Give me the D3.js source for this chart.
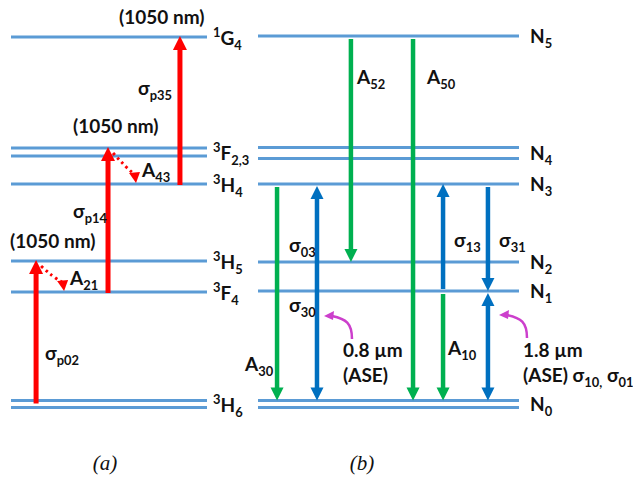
<!DOCTYPE html>
<html><head><meta charset="utf-8">
<script src="https://cdn.jsdelivr.net/npm/d3@7"></script>
<style>body{margin:0;background:#fff}text{font-family:Lato,"Open Sans",sans-serif;font-weight:700;fill:#111}</style>
</head><body><svg id="c" width="633" height="478"></svg>
<script>
// ---------- data ----------
// panel (a): Tm3+ levels (relative energy, arbitrary units)
const levelSupA  = ["3","3","3","3","3","1"];
const levelTermA = ["H","F","H","H","F","G"];
const levelJA    = ["6","4","5","4","2,3","4"];
const energyA    = [0, 112, 143, 220, 252, 367];
const doubleA    = [true,false,false,false,true,false];
// pump transitions (a)
const pumpFrom  = [0, 1, 3];
const pumpTo    = [2, 4, 5];
const pumpCol   = [12.8, 49.5, 86.2];
const pumpSub   = ["p02","p14","p35"];
const pumpWave  = ["(1050 nm)","(1050 nm)","(1050 nm)"];
// non-radiative decays (a)
const decayFrom = [2, 4];
const decayTo   = [1, 3];
const decaySub  = ["21","43"];
// panel (b): population levels
const levelIdxB = ["0","1","2","3","4","5"];
const energyB   = [0, 113, 142, 220, 251, 368];
const doubleB   = [true,false,false,false,true,false];
// transitions (b)
const transFromB = [3, 3, 5, 5, 1, 1, 3, 1];
const transToB   = [0, 0, 2, 0, 3, 0, 1, 0];
const transColB  = [7.3, 22.6, 35.6, 59.4, 70.9, 70.9, 88.1, 88.1];
const transKindB = ["A","S","A","A","S","A","S","S"];
const transBothB = [false,true,false,false,false,false,false,true];
const captions = ["(a)","(b)"];

// ---------- drawing ----------
const svg = d3.select("#c");
const y = d3.scaleLinear().domain([0, 370]).range([404, 34]);
const xA = d3.scaleLinear().domain([0, 100]).range([11, 207]);
const xB = d3.scaleLinear().domain([0, 100]).range([258, 519]);
const LEVEL = "#5B9BD5", RED = "#FF0000", GREEN = "#00B050", BLUE = "#0070C0", MAG = "#CC3FCC";

function lineYs(e, dbl, gap){ return dbl ? [y(e)-gap/2, y(e)+gap/2] : [y(e)]; }
function topY(e, dbl, gap){ return lineYs(e, dbl, gap)[0]; }

function drawLevels(g, energies, dbls, gaps, x0, x1){
  energies.forEach((e,i)=>{
    lineYs(e, dbls[i], gaps[i]).forEach(yy=>{
      g.append("line").attr("x1",x0).attr("x2",x1).attr("y1",yy).attr("y2",yy)
       .attr("stroke",LEVEL).attr("stroke-width",3);
    });
  });
}
function head(g, x, yTip, dir, color, w, l){
  // dir = -1 pointing up, +1 pointing down
  g.append("path").attr("d",`M${x},${yTip} L${x-w/2},${yTip-dir*l} L${x+w/2},${yTip-dir*l} Z`).attr("fill",color);
}
function arrow(g, x, yFrom, yTo, color, sw, w, l, both){
  const dir = yTo > yFrom ? 1 : -1;
  const a = both ? yFrom + dir*l : yFrom;
  const b = yTo - dir*l;
  g.append("line").attr("x1",x).attr("x2",x).attr("y1",a).attr("y2",b+dir*1)
   .attr("stroke",color).attr("stroke-width",sw);
  head(g, x, yTo, dir, color, w, l);
  if (both) head(g, x, yFrom, -dir, color, w, l);
}
function label(g, x, yb, main, sub, sup, size){
  size = size || 19;
  const t = g.append("text").attr("x",x).attr("y",yb).style("font-size",size+"px");
  if (sup) t.append("tspan").text(sup).style("font-size",(size*0.68)+"px").attr("dy",-8);
  t.append("tspan").text(main).attr("dy", sup ? 8 : 0);
  if (sub) t.append("tspan").text(sub).style("font-size",(size*0.68)+"px").attr("dy",5);
  return t;
}

// panel a
const gA = svg.append("g");
const gapA = [7, 0, 0, 0, 8, 0];
drawLevels(gA, energyA, doubleA, gapA, xA(0), xA(100));
energyA.forEach((e,i)=>{ label(gA, 213, y(e)+8, levelTermA[i], levelJA[i], levelSupA[i]); });
pumpFrom.forEach((f,i)=>{
  const x = xA(pumpCol[i]);
  const yf = topY(energyA[f], doubleA[f], gapA[f]) + (doubleA[f] ? 3 : 1);
  const yt = topY(energyA[pumpTo[i]], doubleA[pumpTo[i]], gapA[pumpTo[i]]) - 1;
  arrow(gA, x, yf, yt, RED, 5, 14, 14, false);
});
// wavelength labels & sigma labels
const waveOff = [[-26,-13],[-35,-14],[-61,-13]];
const sigOff  = [[-42, 58],[-35, 70],[9, 99]];
pumpFrom.forEach((f,i)=>{
  const x = xA(pumpCol[i]);
  const yt = topY(energyA[pumpTo[i]], doubleA[pumpTo[i]], gapA[pumpTo[i]]);
  const wo = [[-26,-13],[-35,-14],[-61,-13]][[2,1,0][i]];
});
// explicit placement relative to target level
[[10, 248],[73, 133],[119, 24]].forEach((p,i)=>{ label(gA, p[0], p[1], pumpWave[i]); });
[[45, 360],[73, 218],[138, 95]].forEach((p,i)=>{ label(gA, p[0], p[1], "σ", pumpSub[i]); });
// dotted decays
decayFrom.forEach((f,i)=>{
  const x0 = xA(pumpCol[i]) + 5;
  const y0 = topY(energyA[f], doubleA[f], gapA[f]) + 5;
  const y1 = y(energyA[decayTo[i]]) - 1;
  const x1 = x0 + 22;
  gA.append("path").attr("d",`M${x0},${y0} Q${x0+12},${y0+ (y1-y0)*0.45} ${x1-1},${y1-9}`)
    .attr("fill","none").attr("stroke",RED).attr("stroke-width",3).attr("stroke-dasharray","2.5,3.5");
  gA.append("path").attr("d",`M${x1+1},${y1} L${x1-6},${y1-10} L${x1+5},${y1-11} Z`).attr("fill",RED);
  label(gA, x1+7, y1-6, "A", decaySub[i]);
});

// panel b
const gB = svg.append("g");
const gapB = [7, 0, 0, 0, 11, 0];
drawLevels(gB, energyB, doubleB, gapB, xB(0), xB(100));
energyB.forEach((e,i)=>{ label(gB, 530, y(e)+7, "N", levelIdxB[i]); });
transFromB.forEach((f,i)=>{
  const t = transToB[i];
  const x = xB(transColB[i]);
  const down = energyB[t] < energyB[f];
  let yf = topY(energyB[f], doubleB[f], gapB[f]);
  let yt = topY(energyB[t], doubleB[t], gapB[t]);
  if (down){ yf += 3; yt -= 0; } else { yf -= (transBothB[i]?0:2); }
  if (transBothB[i]) { yf = down ? yf-1 : yf; }
  const color = transKindB[i] === "A" ? GREEN : BLUE;
  arrow(gB, x, yf, yt, color, 4.5, 13, 13, transBothB[i]);
});
// labels (b)
label(gB, 357, 84, "A", "52");
label(gB, 427, 84, "A", "50");
label(gB, 245, 371, "A", "30");
label(gB, 289, 252, "σ", "03");
label(gB, 289, 312, "σ", "30");
label(gB, 454, 247, "σ", "13");
label(gB, 499, 247, "σ", "31");
label(gB, 448, 355, "A", "10");
label(gB, 343, 357, "0.8 µm");
label(gB, 343, 382, "(ASE)");
label(gB, 523, 357, "1.8 µm");
const t10 = label(gB, 523, 382, "(ASE) σ", "10,");
t10.append("tspan").text(" σ").attr("dy",-5).style("font-size","19px");
t10.append("tspan").text("01").attr("dy",5).style("font-size",(19*0.68)+"px");
// magenta curved arrows
[[352, 339, 324],[527, 338, 499]].forEach(p=>{
  gB.append("path").attr("d",`M${p[0]},${p[1]} C${p[0]},${p[1]-16} ${p[0]-6},${p[1]-20} ${p[2]+8},${p[1]-23}`)
    .attr("fill","none").attr("stroke",MAG).attr("stroke-width",2.5);
  const tx = p[2], ty = p[1]-23;
  gB.append("path").attr("d",`M${tx},${ty} L${tx+10},${ty-5} L${tx+9},${ty+4} Z`).attr("fill",MAG);
});

// captions
[[105, 470],[362, 470]].forEach((p,i)=>{
  svg.append("text").attr("x",p[0]).attr("y",p[1]).attr("text-anchor","middle")
    .style("font-family","'Liberation Serif',serif").style("font-style","italic").style("font-weight","400")
    .style("font-size","21px").text(captions[i]);
});
</script></body></html>
